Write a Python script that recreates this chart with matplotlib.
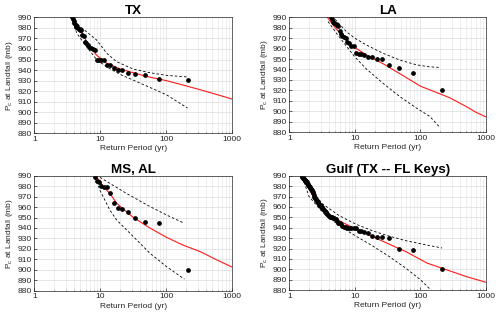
import matplotlib
matplotlib.use("Agg")
import matplotlib.pyplot as plt
from matplotlib.ticker import FixedLocator, NullFormatter, LogLocator

plt.rcParams['font.family'] = ['Liberation Sans', 'DejaVu Sans']
plt.rcParams['mathtext.fontset'] = 'custom'
plt.rcParams['mathtext.rm'] = 'Liberation Sans'

# ---------------- data ----------------
titles = ["TX", "LA", "MS, AL", "Gulf (TX -- FL Keys)"]
yticks = [880, 890, 900, 910, 920, 930, 940, 950, 960, 970, 980, 990]
xticks = [1, 10, 100, 1000]
xticklabels = ["1", "10", "100", "1000"]

# TX
tx_T = [214.5, 77.0, 46.9, 33.7, 26.3, 21.6, 18.3, 15.9, 14.0, 12.6, 11.4, 10.4, 9.56, 8.86,
        8.25, 7.72, 7.25, 6.84, 6.47, 6.14, 5.84, 5.57, 5.32, 5.10, 4.89, 4.70, 4.52, 4.35,
        4.21, 4.06, 3.93, 3.81, 3.69]
tx_P = [931, 932, 935, 936, 937, 940, 940, 942, 945, 945, 950, 950, 950, 950,
        959, 960, 961, 962, 964, 966, 967, 972, 973, 978, 978, 979, 980, 981,
        983, 985, 987, 988, 990]
tx_fit_T = [3.7, 4.2, 5.0, 5.5, 6.0, 7.0, 8.8, 10.2, 12, 15.7, 20, 31.5, 50, 100, 200, 320, 500, 1000]
tx_fit_P = [990, 984, 978, 974, 968.5, 962, 954, 951, 947, 944, 941, 937.5, 934, 930, 925, 921.5, 918, 912.5]
tx_hi_T = [3.7, 4.6, 6.0, 8.8, 12.5, 17.6, 31.5, 56.5, 101, 210]
tx_hi_P = [990, 983, 977, 968.5, 956, 948, 941, 937.5, 935, 933.5]
tx_lo_T = [3.7, 4.4, 6.2, 8.8, 12.5, 19.8, 31.5, 56.5, 101, 210]
tx_lo_P = [990, 975, 962, 950, 943, 936, 930.5, 923.5, 916.5, 904]

# LA
la_T = [214.5, 77.0, 46.9, 33.7, 26.3, 21.6, 18.3, 15.9, 14.0, 12.6, 11.4, 10.4, 9.56, 8.86,
        8.25, 7.72, 7.25, 6.84, 6.47, 6.14, 5.84, 5.57, 5.32, 5.10, 4.89, 4.70, 4.52, 4.35]
la_P = [920, 937, 941, 944, 950, 950, 952, 952, 954, 955, 955, 956, 963, 963,
        965, 966, 970, 971, 972, 974, 977, 982, 983, 984, 985, 986, 988, 990]
la_fit_T = [3.8, 5.25, 7.5, 10, 15, 27, 48.5, 100, 278, 500, 700, 1000]
la_fit_P = [990, 978.5, 968, 961, 954, 945.5, 936, 924, 913, 904.5, 899, 894.5]
la_hi_T = [5.0, 7.5, 10, 15, 27, 48.5, 87, 139, 200]
la_hi_P = [988, 976, 970, 963.5, 955.5, 949, 944.5, 942.5, 942]
la_lo_T = [3.9, 5.25, 7.5, 10, 15, 27, 48.5, 87, 139, 197]
la_lo_P = [986, 974.7, 962, 952, 940.5, 926.7, 914, 903, 895, 884.5]

# MS, AL
ms_T = [214.5, 77.0, 46.9, 33.7, 26.3, 21.6, 18.3, 15.9, 14.0, 12.6, 11.4, 10.4, 9.56, 8.86, 8.25]
ms_P = [900, 945, 946, 950, 955, 958, 959, 964, 973, 979, 979, 980, 984, 985, 989]
ms_fit_T = [8.3, 9.9, 11.1, 14, 17.7, 31.7, 56.5, 101, 181, 324, 450, 580, 1000]
ms_fit_P = [990, 985, 979.5, 973, 963.6, 950, 940, 931, 923.5, 917.5, 913, 909.5, 902.5]
ms_hi_T = [8.5, 9.9, 25, 56.5, 101, 188]
ms_hi_P = [990, 988.4, 973, 960.5, 952.4, 944.5]
ms_lo_T = [8.3, 9.9, 14, 17.7, 31.7, 56.5, 101, 188]
ms_lo_P = [988.4, 976, 957, 947.6, 931.7, 915.8, 903, 891]

# Gulf (TX -- FL Keys)
gulf_T = [214.5, 77.0, 46.9, 33.7, 26.3, 21.6, 18.3, 15.9, 14.0, 12.6, 11.4, 10.4, 9.56, 8.86,
          8.25, 7.72, 7.25, 6.84, 6.47, 6.14, 5.84, 5.57, 5.32, 5.10, 4.89, 4.70, 4.52, 4.35,
          4.21, 4.06, 3.93, 3.81, 3.69, 3.58, 3.48, 3.38, 3.29, 3.20, 3.12, 3.04, 2.96, 2.89,
          2.82, 2.76, 2.70, 2.64, 2.58, 2.53, 2.47, 2.42, 2.38, 2.33, 2.29, 2.24, 2.20, 2.16,
          2.13, 2.09, 2.05, 2.02, 1.99, 1.95, 1.92, 1.89, 1.86, 1.84, 1.81, 1.78, 1.76, 1.73,
          1.71, 1.69, 1.66, 1.64, 1.62, 1.60, 1.58, 1.56, 1.54]
gulf_P = [900, 919, 920, 930, 931, 931, 932, 935, 936, 937, 937, 940, 940, 940,
          940, 940, 941, 941, 942, 944, 945, 945, 946, 948, 949, 949, 950, 950,
          950, 951, 952, 953, 954, 955, 956, 957, 958, 959, 960, 961, 961, 962,
          963, 964, 965, 966, 967, 968, 969, 970, 971, 973, 974, 975, 976, 977,
          977, 978, 979, 980, 980, 981, 982, 983, 983, 984, 984, 985, 985, 986,
          986, 987, 987, 988, 988, 989, 989, 990, 990]
gulf_fit_T = [1.54, 2.0, 2.55, 3.2, 4.06, 5.76, 10.3, 18.6, 33, 60, 126, 214, 500, 1000]
gulf_fit_P = [990, 977, 966, 959.5, 951.5, 946.7, 938.7, 931.5, 924.3, 917, 906, 901, 893, 887.5]
gulf_hi_T = [1.6, 2.0, 3.2, 5.76, 10.3, 18.6, 33, 60, 126, 214]
gulf_hi_P = [988, 979, 963, 951.6, 943.5, 937, 932, 927.5, 923.3, 920.5]
gulf_lo_T = [1.6, 2.0, 3.2, 5.76, 10.3, 18.6, 33, 60, 100, 150]
gulf_lo_P = [988, 970, 955, 942, 932, 922.5, 912.5, 901, 890, 879]

panels = [
    (tx_T, tx_P, tx_fit_T, tx_fit_P, tx_hi_T, tx_hi_P, tx_lo_T, tx_lo_P),
    (la_T, la_P, la_fit_T, la_fit_P, la_hi_T, la_hi_P, la_lo_T, la_lo_P),
    (ms_T, ms_P, ms_fit_T, ms_fit_P, ms_hi_T, ms_hi_P, ms_lo_T, ms_lo_P),
    (gulf_T, gulf_P, gulf_fit_T, gulf_fit_P, gulf_hi_T, gulf_hi_P, gulf_lo_T, gulf_lo_P),
]

positions = [
    [0.0686, 0.582, 0.396, 0.3636],
    [0.5786, 0.586, 0.3934, 0.3596],
    [0.0686, 0.0887, 0.396, 0.3605],
    [0.5786, 0.0906, 0.3934, 0.3586],
]

fig = plt.figure(figsize=(5.0, 3.19), dpi=100)
txtcol = '#262626'
for pos, title, (T, P, fT, fP, hT, hP, lT, lP) in zip(positions, titles, panels):
    ax = fig.add_axes(pos)
    ax.set_xscale('log')
    ax.set_xlim(1, 1000)
    ax.set_ylim(880, 990)
    ax.grid(True, which='major', color='#dcdcdc', linewidth=0.5)
    ax.grid(True, which='minor', axis='x', color='#e8e8e8', linewidth=0.5)
    ax.set_axisbelow(True)
    ax.plot(hT, hP, color='black', linestyle=(0, (3, 2.5)), linewidth=0.6)
    ax.plot(lT, lP, color='black', linestyle=(0, (3, 2.5)), linewidth=0.6)
    ax.plot(fT, fP, color='#ff1a1a', linewidth=0.8)
    ax.plot(T, P, linestyle='none', marker='o', markersize=2.4, color='black')
    ax.xaxis.set_major_locator(FixedLocator(xticks))
    ax.set_xticklabels(xticklabels)
    ax.xaxis.set_minor_locator(LogLocator(base=10, subs=range(2, 10)))
    ax.xaxis.set_minor_formatter(NullFormatter())
    ax.set_yticks(yticks)
    ax.tick_params(which='both', direction='in', labelsize=6.1, colors=txtcol, pad=2)
    ax.tick_params(which='major', length=2, width=0.5)
    ax.tick_params(which='minor', length=1, width=0.4)
    for s in ax.spines.values():
        s.set_color(txtcol)
        s.set_linewidth(0.5)
    ax.set_title(title, fontsize=9.6, fontweight='bold', pad=1.5, color='black')
    ax.set_xlabel('Return Period (yr)', fontsize=6.0, color=txtcol, labelpad=1.5)
    ax.set_ylabel(r'P$_{\mathregular{c}}$ at Landfall (mb)', fontsize=6.0, color=txtcol, labelpad=1.5)

fig.savefig('out.png', dpi=100)
